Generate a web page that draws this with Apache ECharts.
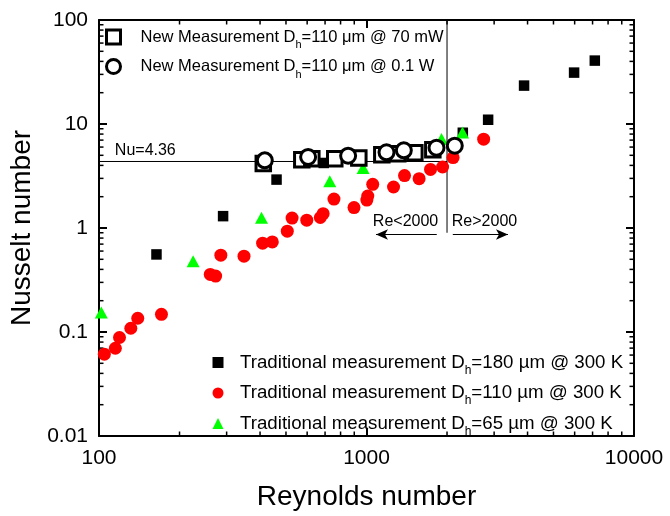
<!DOCTYPE html>
<html><head><meta charset="utf-8">
<script src="https://cdn.jsdelivr.net/npm/echarts@6/dist/echarts.min.js"></script>
<style>html,body{margin:0;padding:0;background:#fff}#c{width:670px;height:516px}</style>
</head><body><div id="c"></div>
<script>
const FONT = '"Liberation Sans", Arial, sans-serif';

// Traditional measurement Dh=180 um
const t180Re = [164, 291, 461, 692, 2291, 2849, 3882, 5971, 7136];
const t180Nu = [0.557, 1.30, 2.92, 4.22, 8.24, 10.99, 23.4, 31.2, 40.7];
// Traditional measurement Dh=110 um
const t110Re = [104.7, 115.1, 119.3, 131.5, 139.6, 171.2, 260.6, 272.9, 285.4, 348.4, 408.9, 444.5, 505.7, 527, 598, 672, 688.5, 755.7, 898, 1003, 1011, 1055, 1262, 1387, 1573, 1735, 1925, 2107, 2741];
const t110Nu = [0.0612, 0.0698, 0.0885, 0.1087, 0.1355, 0.148, 0.358, 0.345, 0.548, 0.536, 0.715, 0.734, 0.932, 1.247, 1.188, 1.261, 1.372, 1.897, 1.573, 1.856, 2.03, 2.63, 2.48, 3.19, 2.98, 3.66, 3.86, 4.75, 7.14];
// Traditional measurement Dh=65 um
const t65Re = [102, 224.8, 405, 729, 971, 1907, 2285];
const t65Nu = [0.1537, 0.480, 1.253, 2.81, 3.78, 7.17, 8.30];
// New measurement 70 mW
const n70Re = [411.3, 573, 624.6, 761, 936, 1141, 1309, 1516, 1770];
const n70Nu = [4.16, 4.54, 4.64, 4.64, 4.71, 5.07, 5.18, 5.30, 5.66];
// New measurement 0.1 W
const n01Re = [416.7, 605, 853.7, 1188, 1379, 1827, 2138];
const n01Nu = [4.47, 4.82, 4.96, 5.34, 5.58, 5.92, 6.18];

// reference lines / annotations
const nuLineRe = [100, 2000], nuLineNu = [4.36, 4.36];
const reLineRe = [2000, 2000], reLineNu = [100, 0.9];
const arrowLeftRe = [1831, 1085], arrowRightRe = [2102, 3380], arrowNu = 0.866;
const annTexts = ['Nu=4.36', 'Re<2000', 'Re>2000'];
const annRe = [114.6, 1056, 2084];
const annNu = [5.54, 1.15, 1.15];

const xTickLabels = {2: '100', 3: '1000', 4: '10000'};
const yTickLabels = {'-2': '0.01', '-1': '0.1', '0': '1', '1': '10', '2': '100'};

const legendParts = {
  n70: ['New Measurement D', 'h', '=110 \u03bcm @ 70 mW'],
  n01: ['New Measurement D', 'h', '=110 \u03bcm @ 0.1 W'],
  t180: ['Traditional measurement D', 'h', '=180 \u00b5m @ 300 K'],
  t110: ['Traditional measurement D', 'h', '=110 \u00b5m @ 300 K'],
  t65: ['Traditional measurement D', 'h', '=65 \u00b5m @ 300 K']
};

const zip = (a, b) => a.map((v, i) => [v, b[i]]);
const fmt = n => legendParts[n][0] + '{s|' + legendParts[n][1] + '}' + legendParts[n][2];

const chart = echarts.init(document.getElementById('c'), null, {renderer: 'canvas'});

function axisCommon(show) {
  return {
    axisLine: {show: true, lineStyle: {color: '#000', width: 2}},
    axisTick: {show: true, inside: true, length: 8, lineStyle: {color: '#000', width: 2}},
    splitLine: {show: false},
    axisLabel: {show: show}
  };
}

const option = {
  backgroundColor: '#fff',
  animation: false,
  grid: {left: 99, right: 36, top: 20, bottom: 79},
  xAxis: [
    Object.assign({type: 'log', logBase: 10, min: 100, max: 10000, position: 'bottom', gridIndex: 0,
      name: 'Reynolds number', nameLocation: 'middle', nameGap: 47,
      nameTextStyle: {fontSize: 28, fontFamily: FONT, color: '#000'}}, axisCommon(true),
      {axisLabel: {show: true, fontSize: 21, fontFamily: FONT, color: '#000', margin: 12,
        formatter: v => xTickLabels[Math.round(Math.log10(v))] || ''}}),
    Object.assign({type: 'log', logBase: 10, min: 100, max: 10000, position: 'top', gridIndex: 0}, axisCommon(false))
  ],
  yAxis: [
    Object.assign({type: 'log', logBase: 10, min: 0.01, max: 100, position: 'left', gridIndex: 0,
      name: 'Nusselt number', nameLocation: 'middle', nameGap: 62,
      nameTextStyle: {fontSize: 28, fontFamily: FONT, color: '#000'}}, axisCommon(true),
      {axisLabel: {show: true, fontSize: 21, fontFamily: FONT, color: '#000', margin: 11,
        formatter: v => yTickLabels[String(Math.round(Math.log10(v)))] || ''}}),
    Object.assign({type: 'log', logBase: 10, min: 0.01, max: 100, position: 'right', gridIndex: 0}, axisCommon(false))
  ],
  legend: [
    {orient: 'vertical', left: 105, top: 26, padding: 0, itemGap: 5, itemWidth: 14, itemHeight: 14,
      data: [
        {name: 'n70', icon: 'rect', itemStyle: {color: '#fff', borderColor: '#000', borderWidth: 3, opacity: 1}},
        {name: 'n01', icon: 'circle', itemStyle: {color: '#fff', borderColor: '#000', borderWidth: 3, opacity: 1}}
      ],
      formatter: fmt,
      textStyle: {fontSize: 16.5, fontFamily: FONT, color: '#000', lineHeight: 22, padding: [0, 0, 0, 15],
        rich: {s: {fontSize: 11, fontFamily: FONT, color: '#000', height: 6, verticalAlign: 'bottom'}}}
    },
    {orient: 'vertical', left: 212.5, top: 351.5, padding: 0, itemGap: 5.5, itemWidth: 11, itemHeight: 11,
      data: [
        {name: 't180', icon: 'rect', itemStyle: {opacity: 1}},
        {name: 't110', icon: 'circle', itemStyle: {opacity: 1}},
        {name: 't65', icon: 'triangle', itemStyle: {opacity: 1}}
      ],
      formatter: fmt,
      textStyle: {fontSize: 18.7, fontFamily: FONT, color: '#000', lineHeight: 22, padding: [0, 0, 0, 11.5],
        rich: {s: {fontSize: 12, fontFamily: FONT, color: '#000', height: 6, verticalAlign: 'bottom'}}}
    }
  ],
  series: [
    {name: 'refH', type: 'line', data: zip(nuLineRe, nuLineNu), symbol: 'none', silent: true,
      lineStyle: {color: '#000', width: 1}, z: 1},
    {name: 'refV', type: 'line', data: zip(reLineRe, reLineNu), symbol: 'none', silent: true,
      lineStyle: {color: '#000', width: 1}, z: 1,
      markLine: {silent: true, symbol: ['none', 'arrow'], symbolSize: [8, 12], label: {show: false},
        lineStyle: {color: '#000', width: 1, type: 'solid'},
        emphasis: {disabled: true},
        data: [
          [{coord: [arrowLeftRe[0], arrowNu]}, {coord: [arrowLeftRe[1], arrowNu]}],
          [{coord: [arrowRightRe[0], arrowNu]}, {coord: [arrowRightRe[1], arrowNu]}]
        ]}},
    {name: 't180', type: 'scatter', data: zip(t180Re, t180Nu), symbol: 'rect', symbolSize: 10.5,
      itemStyle: {color: '#000', opacity: 1}, z: 2},
    {name: 't110', type: 'scatter', data: zip(t110Re, t110Nu), symbol: 'circle', symbolSize: 13,
      itemStyle: {color: '#ff0000', opacity: 1}, z: 3},
    {name: 't65', type: 'scatter', data: zip(t65Re, t65Nu), symbol: 'triangle', symbolSize: [13, 12],
      itemStyle: {color: '#00ff00', opacity: 1}, z: 4},
    {name: 'n70', type: 'scatter', data: zip(n70Re, n70Nu), symbol: 'rect', symbolSize: 14.5,
      itemStyle: {color: '#fff', borderColor: '#000', borderWidth: 3, opacity: 1}, z: 5},
    {name: 'n01', type: 'scatter', data: zip(n01Re, n01Nu), symbol: 'circle', symbolSize: 15,
      itemStyle: {color: '#fff', borderColor: '#000', borderWidth: 3, opacity: 1}, z: 6}
  ]
};
chart.setOption(option);

// minor ticks and annotation texts via the axis scales
const g = [];
const minorX = [], minorY = [];
[100, 1000].forEach(d => { for (let k = 2; k <= 9; k++) minorX.push(k * d); });
[0.01, 0.1, 1, 10].forEach(d => { for (let k = 2; k <= 9; k++) minorY.push(k * d); });
const pLB = chart.convertToPixel({gridIndex: 0}, [100, 0.01]);
const pRT = chart.convertToPixel({gridIndex: 0}, [10000, 100]);
const mLen = 4.5;
minorX.forEach(v => {
  const x = chart.convertToPixel({xAxisIndex: 0}, v);
  g.push({type: 'line', silent: true, shape: {x1: x, y1: pLB[1], x2: x, y2: pLB[1] - mLen}, style: {stroke: '#000', lineWidth: 1.5}});
  g.push({type: 'line', silent: true, shape: {x1: x, y1: pRT[1], x2: x, y2: pRT[1] + mLen}, style: {stroke: '#000', lineWidth: 1.5}});
});
minorY.forEach(v => {
  const y = chart.convertToPixel({yAxisIndex: 0}, v);
  g.push({type: 'line', silent: true, shape: {x1: pLB[0], y1: y, x2: pLB[0] + mLen, y2: y}, style: {stroke: '#000', lineWidth: 1.5}});
  g.push({type: 'line', silent: true, shape: {x1: pRT[0], y1: y, x2: pRT[0] - mLen, y2: y}, style: {stroke: '#000', lineWidth: 1.5}});
});
annTexts.forEach((t, i) => {
  const p = chart.convertToPixel({gridIndex: 0}, [annRe[i], annNu[i]]);
  g.push({type: 'text', silent: true, x: p[0], y: p[1],
    style: {text: t, fontSize: 16, fontFamily: FONT, fill: '#000', align: 'left', verticalAlign: 'middle'}});
});
chart.setOption({graphic: g});
</script>
</body></html>
